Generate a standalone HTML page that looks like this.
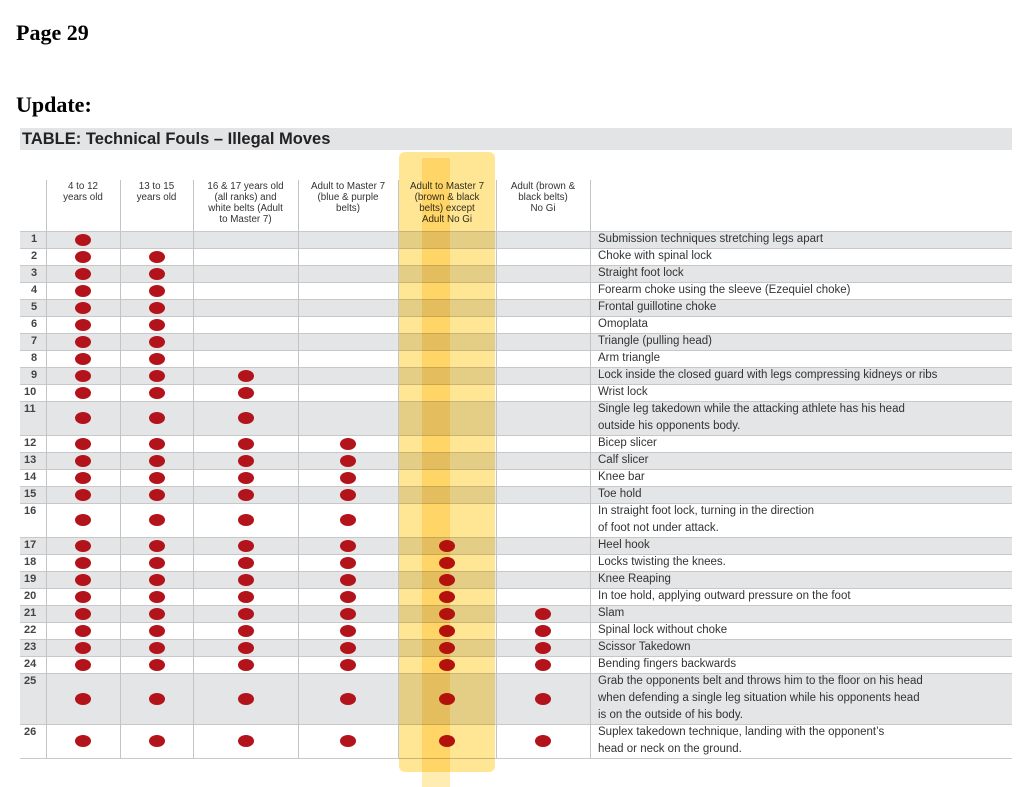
<!DOCTYPE html>
<html><head><meta charset="utf-8">
<style>
body{margin:0;background:#fff;width:1024px;height:787px;overflow:hidden;position:relative;font-family:"Liberation Sans",sans-serif}
.abs{position:absolute}
.h{font-family:"Liberation Serif",serif;font-weight:bold;font-size:22px;color:#000}
.hd{font-size:9.8px;color:#333;text-align:center;line-height:11px}
.tx{font-size:11.5px;color:#333;line-height:17px;white-space:nowrap}
.num{font-size:11px;color:#444;font-weight:bold}
</style></head><body>
<div class="abs h" style="left:16px;top:20px">Page 29</div>
<div class="abs h" style="left:16px;top:92px">Update:</div>
<div class="abs" style="left:20px;top:128px;width:992px;height:22px;background:#e3e4e6"></div>
<div class="abs" style="left:22px;top:130px;font-size:16.5px;font-weight:bold;color:#222">TABLE: Technical Fouls – Illegal Moves</div>
<div id="tbl"></div>
<div class="abs" style="left:399px;top:152px;width:96px;height:620px;background:#ffd23c;opacity:0.55;mix-blend-mode:multiply;border-radius:6px"></div>
<div class="abs" style="left:422px;top:158px;width:28px;height:629px;background:#ffc820;opacity:0.35;mix-blend-mode:multiply"></div>
<script>
const headers=["4 to 12<br>years old","13 to 15<br>years old","16 &amp; 17 years old<br>(all ranks) and<br>white belts (Adult<br>to Master 7)","Adult to Master 7<br>(blue &amp; purple<br>belts)","Adult to Master 7<br>(brown &amp; black<br>belts) except<br>Adult No Gi","Adult (brown &amp;<br>black belts)<br>No Gi"];
const startRow=[1,2,9,12,17,21];
const moves=["Submission techniques stretching legs apart","Choke with spinal lock","Straight foot lock","Forearm choke using the sleeve (Ezequiel choke)","Frontal guillotine choke","Omoplata","Triangle (pulling head)","Arm triangle","Lock inside the closed guard with legs compressing kidneys or ribs","Wrist lock","Single leg takedown while the attacking athlete has his head<br>outside his opponents body.","Bicep slicer","Calf slicer","Knee bar","Toe hold","In straight foot lock, turning in the direction<br>of foot not under attack.","Heel hook","Locks twisting the knees.","Knee Reaping","In toe hold, applying outward pressure on the foot","Slam","Spinal lock without choke","Scissor Takedown","Bending fingers backwards","Grab the opponents belt and throws him to the floor on his head<br>when defending a single leg situation while his opponents head<br>is on the outside of his body.","Suplex takedown technique, landing with the opponent’s<br>head or neck on the ground."];
const cols=[20,46,120,193,298,398,496,590,1012];
const tbl=document.getElementById('tbl');
function add(html,style,name){const d=document.createElement('div');d.className='abs';d.style.cssText=style;d.innerHTML=html;


tbl.appendChild(d);return d;}
const top0=180,bodyTop=231,lh=17;
headers.forEach((h,i)=>{add('<div class="hd">'+h+'</div>','left:'+cols[i+1]+'px;top:'+(top0+1)+'px;width:'+(cols[i+2]-cols[i+1])+'px','column-header');});
let y=bodyTop;
moves.forEach((m,i)=>{const n=m.split('<br>').length;const h=n*lh;
if(i%2===0)add('','left:20px;top:'+y+'px;width:992px;height:'+h+'px;background:#e4e5e7','row-band');
add('','left:20px;top:'+y+'px;width:992px;height:1px;background:#c8c8c8','row-rule');
add(String(i+1),'left:'+(i<9?31:24)+'px;top:'+(y+2)+'px;','row-number').className='abs num';
add(m,'left:598px;top:'+y+'px','move-name').className='abs tx';
startRow.forEach((s,c)=>{if(i+1>=s){const cx=(cols[c+1]+cols[c+2])/2;
add('','left:'+(cx-8)+'px;top:'+(y+h/2-6)+'px;width:16px;height:12px;border-radius:50%;background:#b3131b','foul-dot');}});
y+=h;});
add('','left:20px;top:'+y+'px;width:992px;height:1px;background:#c8c8c8','table-bottom-rule');
for(let i=1;i<cols.length-1;i++)add('','left:'+cols[i]+'px;top:'+top0+'px;width:1px;height:'+(y-top0)+'px;background:#c4c4c4','column-rule');
</script>
</body></html>
